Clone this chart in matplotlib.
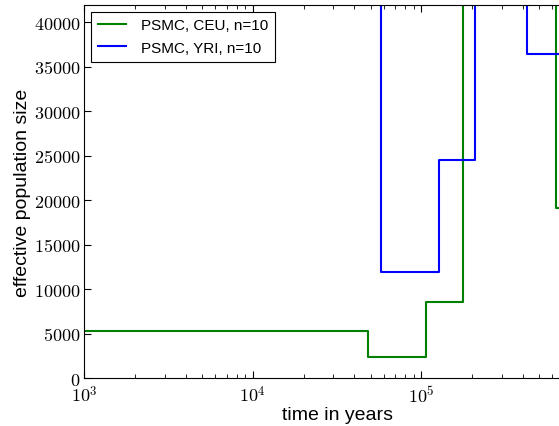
import numpy as np
import matplotlib
matplotlib.use('Agg')
import matplotlib.pyplot as plt
from matplotlib.ticker import FuncFormatter, LogLocator, MultipleLocator

plt.rcParams['font.family'] = ['Liberation Sans', 'DejaVu Sans']
plt.rcParams['mathtext.fontset'] = 'cm'

#---------PSMC step curves (time breakpoints, Ne)----------
ceu_time = [1e3, 48500, 106700, 177000, 630000, 1e6]
ceu_ne = [5300, 2360, 8540, 60000, 19100, 19100]

yri_time = [1e3, 57700, 126700, 209400, 427000, 1e6]
yri_ne = [80000, 12000, 24560, 60000, 36440, 36440]


def xfmt(v, p):
    e = int(round(np.log10(v)))
    if e > 5:  # these sit past the cropped edge
        return ''
    return r'$10^{%d}$' % e


fig = plt.figure(figsize=(5.59, 4.27), dpi=100)
# axes runs past the right edge of the figure (cropped like the original)
ax = fig.add_axes([0.151, 0.1117, 0.904, 0.875])

ax.step(ceu_time, ceu_ne, where='post', color=(0, 0.5, 0), lw=1.5, label='PSMC, CEU, n=10')
ax.step(yri_time, yri_ne, where='post', color=(0, 0, 1), lw=1.5, label='PSMC, YRI, n=10')

ax.set_xscale('log')
ax.set_xlim(1e3, 1e6)
ax.set_ylim(0, 42000)

ax.yaxis.set_major_locator(MultipleLocator(5000))
ax.yaxis.set_major_formatter(FuncFormatter(lambda v, p: r'$%d$' % v))
ax.xaxis.set_major_locator(LogLocator(base=10))
ax.xaxis.set_minor_locator(LogLocator(base=10, subs=np.arange(2, 10)))
ax.xaxis.set_major_formatter(FuncFormatter(xfmt))

ax.tick_params(which='both', direction='in', top=True, right=True, labelsize=13)
ax.tick_params(which='major', length=5)
ax.tick_params(which='minor', length=3)
ax.tick_params(axis='x', pad=5)
ax.tick_params(axis='y', pad=3)

ax.set_xlabel('time in years', fontsize=14, labelpad=0)
ax.set_ylabel('effective population size', fontsize=14, labelpad=2)

leg = ax.legend(loc='upper left', fontsize=11, fancybox=False, framealpha=1,
                edgecolor='black', handlelength=1.8, handletextpad=1.0,
                borderaxespad=0.45, labelspacing=0.55, borderpad=0.45)
leg.get_frame().set_linewidth(0.8)

fig.savefig('out.png', dpi=100)
